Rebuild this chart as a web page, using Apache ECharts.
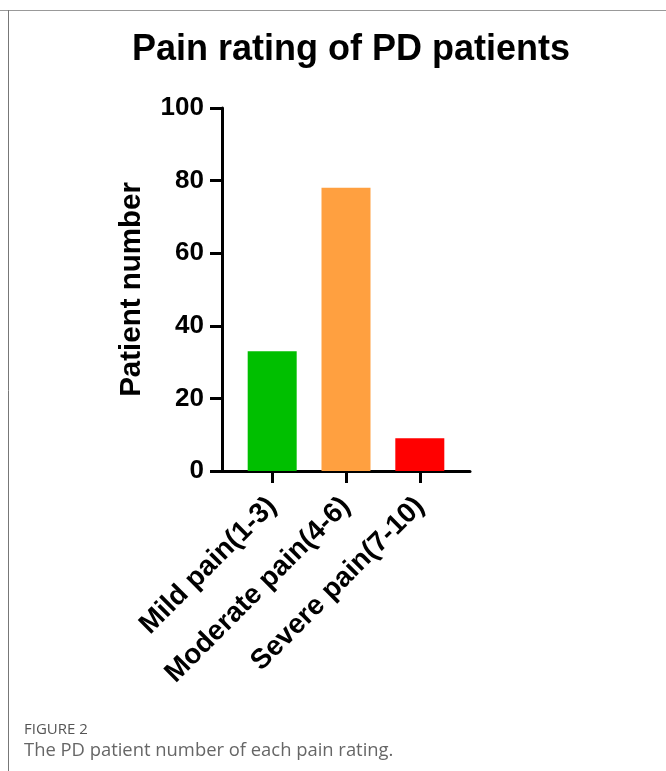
<!DOCTYPE html>
<html>
<head>
<meta charset="utf-8">
<script src="https://cdn.jsdelivr.net/npm/echarts@6/dist/echarts.min.js"></script>
<style>html,body{margin:0;padding:0;background:#fff}#c{width:666px;height:771px}</style>
</head>
<body>
<div id="c"></div>
<script>
const categories = ['Mild pain(1-3)', 'Moderate pain(4-6)', 'Severe pain(7-10)'];
const patientCounts = [33, 78, 9];
const barColors = ['#00BF00', '#FFA040', '#FF0000'];
const yTicks = [0, 20, 40, 60, 80, 100];

const chart = echarts.init(document.getElementById('c'));
const font = 'Liberation Sans, Arial, sans-serif';
chart.setOption({
  animation: false,
  backgroundColor: '#fff',
  title: {
    text: 'Pain rating of PD patients',
    left: 127, top: 27,
    textStyle: { fontFamily: font, fontWeight: 'bold', fontSize: 36, color: '#000' }
  },
  grid: { left: 222, right: 196, top: 108, bottom: 300, containLabel: false },
  xAxis: {
    type: 'value', min: -0.68, max: 2.68,
    splitLine: { show: false },
    axisLine: { show: true, onZero: false, lineStyle: { color: '#000', width: 3 } },
    axisTick: { show: true, length: 12, lineStyle: { color: '#000', width: 3 }, customValues: [0, 1, 2] },
    axisLabel: {
      customValues: [0, 1, 2],
      formatter: v => categories[Math.round(v)],
      rotate: 45, margin: 31,
      fontFamily: font, fontWeight: 'bold', fontSize: 28, color: '#000'
    }
  },
  yAxis: {
    type: 'value', min: yTicks[0], max: yTicks[yTicks.length - 1], interval: 20,
    name: 'Patient number', nameLocation: 'middle', nameGap: 75, nameRotate: 90,
    nameTextStyle: { fontFamily: font, fontWeight: 'bold', fontSize: 29.5, color: '#000' },
    splitLine: { show: false },
    axisLine: { show: true, onZero: false, lineStyle: { color: '#000', width: 3 } },
    axisTick: { show: true, length: 12, lineStyle: { color: '#000', width: 3 } },
    axisLabel: { margin: 18, fontFamily: font, fontWeight: 'bold', fontSize: 26, color: '#000' }
  },
  series: [{
    type: 'bar',
    barWidth: 49,
    data: patientCounts.map((v, i) => ({ value: [i, v], itemStyle: { color: barColors[i] } }))
  }],
  graphic: [
    { type: 'line', shape: { x1: 0, y1: 10.5, x2: 666, y2: 10.5 }, style: { stroke: '#999', lineWidth: 1 } },
    { type: 'line', shape: { x1: 8.5, y1: 10, x2: 8.5, y2: 771 }, style: { stroke: '#777', lineWidth: 1 } },
    { type: 'text', left: 24, top: 722, style: { text: 'FIGURE 2', fontFamily: 'Open Sans, sans-serif', fontSize: 15, fill: '#555' } },
    { type: 'text', left: 24, top: 742, style: { text: 'The PD patient number of each pain rating.', fontFamily: 'Open Sans, sans-serif', fontSize: 18.4, fill: '#666' } }
  ]
});
</script>
</body>
</html>
